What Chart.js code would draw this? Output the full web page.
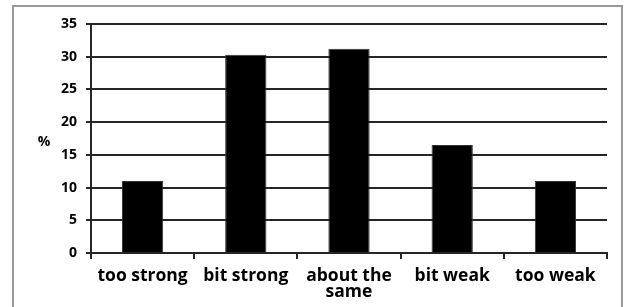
<!DOCTYPE html>
<html>
<head>
<meta charset="utf-8">
<script src="https://cdn.jsdelivr.net/npm/chart.js@4"></script>
<style>
html,body{margin:0;padding:0;background:#fff;}
#wrap{position:absolute;left:0;top:0;width:628px;height:307px;}
#frame{position:absolute;left:12px;top:5px;width:611px;height:320px;border:2px solid #9a9a9a;box-sizing:border-box;}
canvas{position:absolute;left:0;top:0;}
</style>
</head>
<body>
<div id="wrap"><div id="frame"></div><canvas id="c" width="628" height="307"></canvas></div>
<script>
const categories = [["too strong"], ["bit strong"], ["about the", "same"], ["bit weak"], ["too weak"]];
const values = [11.0, 30.3, 31.2, 16.5, 11.0];
const yTicks = [0, 5, 10, 15, 20, 25, 30, 35];
const yTitle = "%";

const FONT = "'Open Sans', sans-serif";
const dark = "#262626";

const pctLabel = {
  id: 'pctLabel',
  afterDraw(chart) {
    const ctx = chart.ctx;
    ctx.save();
    ctx.font = "bold 14px " + FONT;
    ctx.fillStyle = "#000";
    ctx.textAlign = "center";
    ctx.textBaseline = "middle";
    ctx.fillText(yTitle, 44, 142);
    ctx.restore();
  }
};

new Chart(document.getElementById('c'), {
  type: 'bar',
  data: {
    labels: categories,
    datasets: [{
      data: values,
      backgroundColor: '#000',
      borderColor: '#333',
      borderWidth: 1,
      barPercentage: 0.4,
      categoryPercentage: 1.0
    }]
  },
  options: {
    responsive: false,
    animation: false,
    events: [],
    layout: { padding: { top: 24, right: 21, left: 0, bottom: 0 } },
    plugins: { legend: { display: false }, tooltip: { enabled: false } },
    scales: {
      x: {
        offset: true,
        grid: { display: true, offset: true, drawOnChartArea: false, drawTicks: true, tickLength: 6, color: dark, lineWidth: 2 },
        border: { display: true, color: dark, width: 2 },
        ticks: {
          color: '#000', font: { family: FONT, size: 17.5, weight: 'bold', lineHeight: 0.9 },
          maxRotation: 0, autoSkip: false, padding: 9
        },
        afterFit(s) { s.height = 54; }
      },
      y: {
        min: 0, max: 35,
        afterBuildTicks(s) { s.ticks = yTicks.map(v => ({ value: v })); },
        grid: { color: dark, lineWidth: 2, tickLength: 5 },
        border: { display: true, color: dark, width: 2 },
        ticks: { color: '#000', font: { family: FONT, size: 14, weight: 'bold' }, padding: 9 },
        afterFit(s) { s.width = 91; }
      }
    }
  },
  plugins: [pctLabel]
});
</script>
</body>
</html>
